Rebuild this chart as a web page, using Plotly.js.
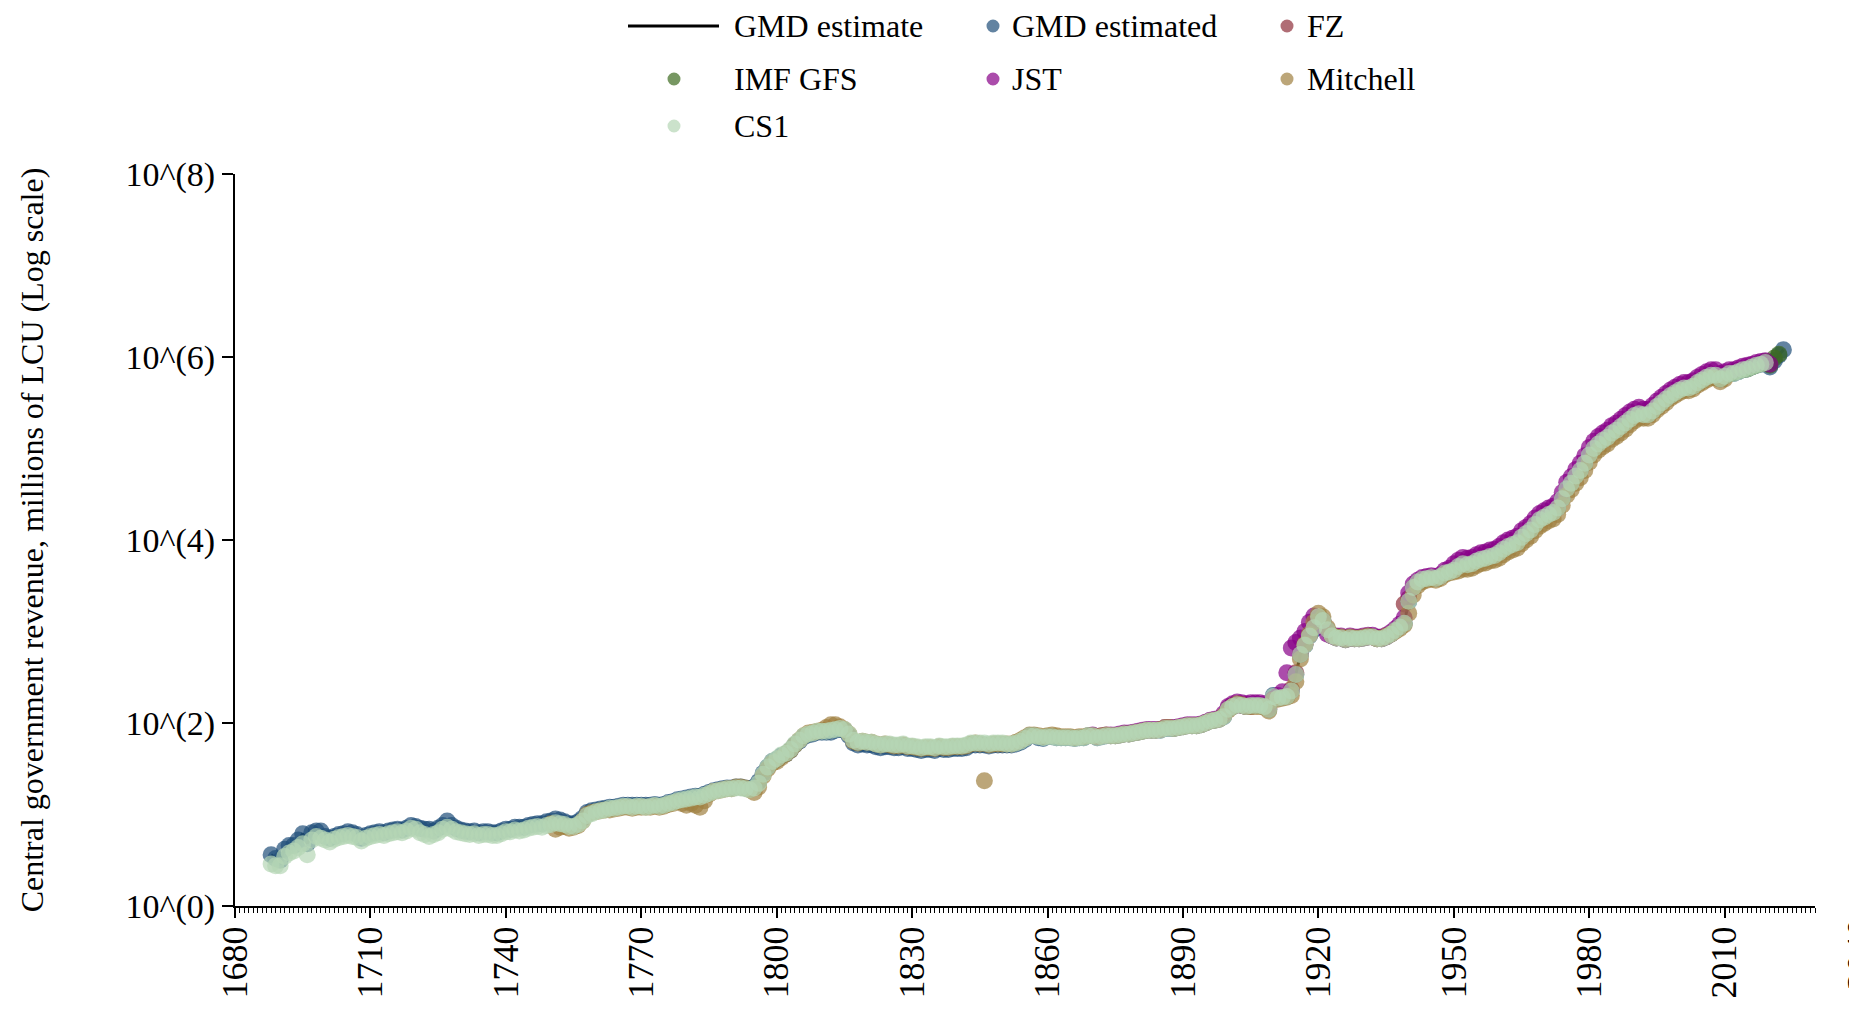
<!DOCTYPE html>
<html>
<head>
<meta charset="utf-8">
<script src="https://cdn.plot.ly/plotly-3.0.1.min.js"></script>
<style>
  html, body { margin: 0; padding: 0; background: #ffffff; }
  #chart { width: 1849px; height: 1011px; }
</style>
</head>
<body>
<div id="chart"></div>
<script>
// ---------------- DATA (millions of LCU) ----------------
const gmdStartYear = 1688;
const gmdEstimate = [
3.63,3.31,3.16,4.17,4.57,4.57,5.25,6.17,4.79,6.31,6.61,6.61,
5.75,5.50,5.75,6.03,6.17,6.46,6.31,6.03,5.50,5.89,
6.17,6.31,6.46,6.31,6.61,6.76,6.92,6.76,7.08,7.59,
7.41,7.08,6.92,6.92,6.61,7.08,7.59,8.51,7.59,7.08,
6.76,6.61,6.46,6.61,6.31,6.46,6.46,6.31,6.31,6.61,
6.92,6.92,7.24,7.24,7.24,7.59,7.76,7.94,7.94,8.32,
8.51,8.91,8.71,8.32,7.94,7.94,8.32,9.12,10.5,11.0,
11.2,11.5,11.7,12.0,12.0,12.3,12.6,12.6,12.6,12.6,
12.6,12.6,12.6,12.9,12.6,12.9,13.5,13.8,14.5,14.8,
15.1,15.5,15.8,15.8,16.6,17.4,18.2,18.6,19.1,19.5,
19.5,20.0,20.0,19.5,19.1,20.0,22.9,28.2,33.1,38.0,
39.8,43.7,45.7,50.1,57.5,63.1,70.8,74.1,75.9,79.4,
79.4,79.4,79.4,83.2,85.1,83.2,72.4,60.3,57.5,58.9,
57.5,57.5,55.0,53.7,55.0,55.0,53.7,53.7,55.0,52.5,
52.5,51.3,50.1,51.3,51.3,50.1,52.5,51.3,51.3,52.5,
52.5,52.5,53.7,57.5,57.5,57.5,57.5,56.2,57.5,57.5,
57.5,57.5,57.5,58.9,61.7,66.1,72.4,72.4,69.2,67.6,
70.8,70.8,69.2,69.2,69.2,69.2,67.6,69.2,69.2,72.4,
72.4,69.2,70.8,72.4,72.4,72.4,74.1,75.9,75.9,77.6,
79.4,81.3,83.2,83.2,83.2,83.2,87.1,87.1,87.1,89.1,
91.2,93.3,93.3,93.3,95.5,100,105,107,110,117,
141,151,158,155,151,155,155,155,151,141,
200,186,191,195,224,339,562,708,891,1047,
1349,1318,1047,891,851,851,813,851,832,832,
851,871,871,832,832,871,933,1023,1122,1230,
2138,3020,3467,3715,3802,3890,3802,3981,4365,4467,
4677,5129,5495,5370,5495,5888,6166,6310,6607,6761,
7244,7943,8511,8913,9333,10720,11750,12880,14790,16600,
17780,19050,19950,22390,28180,36310,41690,50120,57540,69180,
85110,100000,112200,123000,131800,147900,158500,173800,190500,208900,
229100,239900,234400,234400,257000,288400,316200,346700,380200,407400,
436500,457100,457100,478600,524800,562300,602600,631000,631000,575400,
616600,660700,660700,691800,724400,741300,776200,812800,831800,871000,
776200,912000,1047000,1202000
];

const cs1StartYear = 1688;
const cs1 = [
2.88,2.75,2.75,3.47,3.80,3.98,4.37,4.79,3.63,5.25,5.75,5.50,
5.25,5.01,5.37,5.62,5.75,5.89,5.75,5.62,5.13,5.50,
5.75,5.89,6.03,5.89,6.17,6.31,6.46,6.31,6.61,7.08,
6.92,6.31,6.03,5.75,6.03,6.31,6.92,7.24,6.92,6.46,
6.31,6.17,6.03,6.17,5.89,6.03,6.03,5.89,5.89,6.17,
6.46,6.46,6.76,6.61,6.76,7.08,7.24,7.41,7.24,7.59,
7.76,8.13,7.94,7.76,7.41,7.41,7.76,8.51,9.77,10.2,
10.7,11.0,11.2,11.7,11.7,12.0,12.3,12.3,12.0,12.3,
12.3,12.0,12.3,12.6,12.3,12.6,13.2,13.5,14.1,14.5,
14.8,15.1,15.5,15.5,16.2,17.0,17.8,18.2,18.6,19.1,
19.1,19.5,19.5,19.1,18.6,19.5,21.9,27.5,33.1,38.0,
40.7,44.7,46.8,51.3,58.9,64.6,72.4,75.9,77.6,81.3,
81.3,81.3,83.2,85.1,87.1,85.1,75.9,64.6,61.7,63.1,
61.7,61.7,58.9,57.5,58.9,58.9,57.5,57.5,58.9,56.2,
56.2,55.0,53.7,55.0,55.0,53.7,56.2,55.0,55.0,56.2,
56.2,56.2,57.5,60.3,60.3,60.3,60.3,58.9,60.3,60.3,
60.3,58.9,58.9,60.3,63.1,67.6,72.4,72.4,70.8,69.2,
70.8,70.8,69.2,69.2,69.2,69.2,67.6,69.2,69.2,72.4,
72.4,69.2,70.8,72.4,72.4,72.4,74.1,75.9,75.9,77.6,
79.4,81.3,83.2,83.2,83.2,83.2,87.1,87.1,87.1,89.1,
91.2,93.3,93.3,93.3,95.5,100,105,107,110,117,
141,151,158,155,151,155,155,155,151,141,
195,186,191,195,224,339,562,708,891,1096,
1445,1318,1047,891,851,851,813,851,832,832,
851,871,871,832,832,871,933,1023,1122,1230,
2138,3020,3467,3715,3802,3890,3802,3981,4365,4467,
4677,5129,5495,5370,5495,5888,6166,6310,6607,6761,
7244,7943,8511,8913,9333,10720,11750,12880,14790,16600,
17780,19050,19950,22390,28180,36310,41690,50120,57540,69180,
85110,100000,112200,123000,131800,147900,158500,173800,190500,208900,
229100,239900,234400,234400,257000,288400,316200,346700,380200,407400,
436500,457100,457100,478600,524800,562300,602600,631000,631000,575400,
616600,660700,660700,691800,724400,741300,776200,812800,831800,871000
];

const mitchellStartYear = 1750;
const mitchell = [
7.94,6.92,7.24,7.41,7.08,7.24,7.59,8.51,10.0,10.5,
10.7,11.0,11.2,11.2,11.5,11.7,12.0,12.0,11.7,12.0,
12.0,12.0,12.0,12.3,12.0,12.3,12.9,13.2,13.8,13.2,
12.6,13.2,12.6,12.0,14.1,16.6,17.8,18.2,18.6,19.1,
19.1,20.0,20.0,19.5,18.6,17.4,20.0,26.3,31.6,36.3,
38.0,41.7,45.7,50.1,57.5,64.6,72.4,77.6,79.4,81.3,
83.2,89.1,95.5,95.5,91.2,85.1,75.9,63.1,60.3,63.1,
61.7,61.7,58.9,57.5,58.9,57.5,56.2,56.2,57.5,55.0,
55.0,53.7,52.5,53.7,53.7,52.5,55.0,53.7,53.7,55.0,
55.0,55.0,56.2,58.9,60.3,58.9,23.4,57.5,58.9,58.9,
58.9,58.9,58.9,61.7,64.6,69.2,74.1,74.1,72.4,70.8,
72.4,74.1,72.4,70.8,70.8,70.8,69.2,70.8,70.8,72.4,
72.4,70.8,72.4,74.1,72.4,72.4,74.1,75.9,75.9,77.6,
79.4,81.3,83.2,83.2,83.2,85.1,89.1,89.1,87.1,89.1,
91.2,93.3,93.3,93.3,95.5,100,105,107,110,120,
138,151,162,158,151,151,151,151,148,135,
178,182,186,191,200,282,501,724,933,1259,
1585,1445,1096,912,871,871,832,871,851,851,
871,891,871,832,851,891,933,1000,1072,1175,
1585,2512,3162,3467,3631,3715,3631,3802,4169,4365,
4467,4571,4786,4786,4898,5248,5495,5623,5888,6026,
6310,6918,7413,7762,8128,9120,10000,10960,12590,14130,
15140,16220,16980,19050,23990,30900,35480,41690,47860,57540,
70790,85110,95500,104700,112200,125900,134900,147900,162200,182000,
199500,213800,213800,213800,234400,263000,288400,316200,354800,380200,
407400,426600,426600,446700,489800,524800,562300,588800,588800,537000,
575400
];

const jstStartYear = 1870;
const jst = [
74.1,70.8,72.4,74.1,74.1,74.1,75.9,77.6,77.6,79.4,
81.3,83.2,85.1,85.1,85.1,85.1,89.1,89.1,89.1,91.2,
93.3,95.5,95.5,95.5,97.7,102,107,110,112,126,
151,162,170,166,162,166,166,166,162,155,
182,200,219,355,661,759,851,1000,1259,1479,
1413,1122,933,891,891,891,851,891,871,871,
891,912,912,871,871,912,977,1072,1202,1413,
2630,3311,3631,3890,3981,4074,3981,4169,4677,4898,
5495,6026,6457,6310,6457,6918,7244,7413,7762,7943,
8511,9333,10000,10470,10960,12590,13800,15140,17380,19500,
20890,22390,23440,26300,33110,42660,48980,58880,69180,83180,
102300,120200,134900,147900,158500,177800,190500,208900,229100,251200,
269200,281800,269200,269200,295100,331100,363100,398100,436500,467700,
501200,524800,524800,549500,602600,645700,691800,724400,724400,660700,
691800,724400,724400,758600,794300,812800,831800,871000,891300,912000,
831800
];

const fzStartYear = 1900;
const fz = [
145,155,158,155,151,151,155,155,151,145,
182,186,191,200,234,355,575,724,912,1122,
1380,1318,1047,891,851,851,813,851,832,832,
851,871,871,832,832,871,933,1023,1122,1995,
2291,3020,3467,3715,3802,3890,3802,3981,4365,4467,
4677
];

const imfStartYear = 2000;
const imfGfs = [
436500,457100,457100,478600,524800,562300,602600,631000,616600,575400,
616600,660700,676100,707900,724400,741300,776200,812800,851100,891300,
812800,977200,1072000
];

const seriesNames = ['GMD estimate', 'GMD estimated', 'FZ', 'IMF GFS', 'JST', 'Mitchell', 'CS1'];
const yTickVals = [1, 100, 10000, 1000000, 100000000];
const yTickText = ['10^(0)', '10^(2)', '10^(4)', '10^(6)', '10^(8)'];
const extraXTickLabel = 2040;

// ---------------- STYLE ----------------
const FONT = 'Liberation Serif, Times New Roman, serif';
const MSIZE = 17;
const MOP = 0.7;
const colors = {
  'GMD estimate': '#000000',
  'GMD estimated': '#1f4e79',
  'FZ': '#8f2f3b',
  'IMF GFS': '#3d6b1f',
  'JST': '#880088',
  'Mitchell': '#a08040',
  'CS1': '#b5d5b5'
};

const W = 1849, H = 1011;
const M = { l: 235, r: 34, t: 174, b: 105 };
const xRange = [1680, 2030];

function yearsFrom(start, arr) { return arr.map((_, i) => start + i); }

function markerTrace(name, start, arr) {
  return {
    type: 'scatter', mode: 'markers', name: name, showlegend: false,
    x: yearsFrom(start, arr), y: arr,
    marker: { color: colors[name], size: MSIZE, opacity: MOP, line: { width: 0 } },
    hoverinfo: 'skip'
  };
}

const traces = [
  { type: 'scatter', mode: 'lines', name: 'GMD estimate', showlegend: false,
    x: yearsFrom(gmdStartYear, gmdEstimate), y: gmdEstimate,
    line: { color: colors['GMD estimate'], width: 3 }, hoverinfo: 'skip' },
  markerTrace('GMD estimated', gmdStartYear, gmdEstimate),
  markerTrace('FZ', fzStartYear, fz),
  markerTrace('IMF GFS', imfStartYear, imfGfs),
  markerTrace('JST', jstStartYear, jst),
  markerTrace('Mitchell', mitchellStartYear, mitchell),
  markerTrace('CS1', cs1StartYear, cs1)
];

// ---------------- LEGEND (drawn by hand, 3 columns) ----------------
const pw = W - M.l - M.r, ph = H - M.t - M.b;
const px2x = px => (px - M.l) / pw;
const py2y = py => (H - M.b - py) / ph;

// [name, symbol centre px, text left px, row centre px]
const legendSlots = [
  [seriesNames[0], 673, 732, 26],
  [seriesNames[1], 993, 1010, 26],
  [seriesNames[2], 1287, 1305, 26],
  [seriesNames[3], 674, 732, 79],
  [seriesNames[4], 993, 1010, 79],
  [seriesNames[5], 1287, 1305, 79],
  [seriesNames[6], 674, 732, 126]
];

const shapes = [];
const annotations = [];
legendSlots.forEach(([name, sx, tx, ry]) => {
  if (name === 'GMD estimate') {
    shapes.push({ type: 'line', xref: 'paper', yref: 'paper',
      x0: px2x(628), x1: px2x(719), y0: py2y(ry), y1: py2y(ry),
      line: { color: colors[name], width: 3 } });
  } else {
    shapes.push({ type: 'circle', xref: 'paper', yref: 'paper',
      xsizemode: 'pixel', ysizemode: 'pixel',
      xanchor: px2x(sx), yanchor: py2y(ry),
      x0: -6.5, x1: 6.5, y0: -6.5, y1: 6.5,
      fillcolor: colors[name], opacity: MOP, line: { width: 0 } });
  }
  annotations.push({ xref: 'paper', yref: 'paper', x: px2x(tx), y: py2y(ry),
    xanchor: 'left', yanchor: 'middle', text: name, showarrow: false,
    font: { family: FONT, size: 32, color: '#000000' } });
});

// partially visible tick label beyond the axis end
annotations.push({
  xref: 'paper', yref: 'paper',
  x: (extraXTickLabel - xRange[0]) / (xRange[1] - xRange[0]), y: 0,
  xanchor: 'center', yanchor: 'top', yshift: -10,
  text: String(extraXTickLabel), textangle: -90, showarrow: false,
  font: { family: FONT, size: 36, color: '#000000' }
});

const layout = {
  width: W, height: H,
  paper_bgcolor: '#ffffff', plot_bgcolor: '#ffffff',
  margin: M,
  font: { family: FONT, color: '#000000', size: 32 },
  showlegend: false,
  xaxis: {
    range: xRange, tickmode: 'linear', tick0: 1680, dtick: 30,
    tickangle: -90, tickfont: { family: FONT, size: 36, color: '#000000' },
    showline: true, linecolor: '#000000', linewidth: 2,
    ticks: 'outside', ticklen: 10, tickwidth: 2, tickcolor: '#000000',
    ticklabelstandoff: -6,
    minor: { dtick: 1, ticks: 'outside', ticklen: 5, tickwidth: 1, tickcolor: '#000000' },
    showgrid: false, zeroline: false, automargin: false
  },
  yaxis: {
    type: 'log', range: [0, 8],
    tickmode: 'array', tickvals: yTickVals, ticktext: yTickText,
    tickfont: { family: FONT, size: 34, color: '#000000' },
    showline: true, linecolor: '#000000', linewidth: 2,
    ticks: 'outside', ticklen: 11, tickwidth: 2, tickcolor: '#000000',
    ticklabelstandoff: 0,
    showgrid: false, zeroline: false, automargin: false,
    title: { text: 'Central government revenue, millions of LCU (Log scale)',
             font: { family: FONT, size: 32, color: '#000000' }, standoff: 72 }
  },
  shapes: shapes,
  annotations: annotations
};

Plotly.newPlot('chart', traces, layout, { displayModeBar: false, responsive: false });
</script>
</body>
</html>
